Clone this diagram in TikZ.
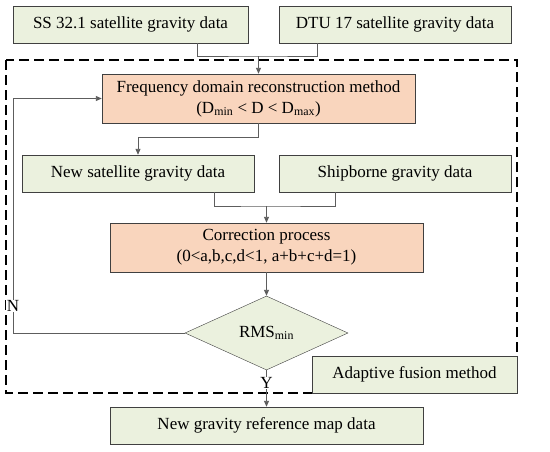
\documentclass[tikz,border=0pt]{standalone}
\usepackage{fontspec}
\setmainfont{Liberation Serif}
\usepackage{tikz}
\usetikzlibrary{arrows.meta,positioning,calc,shapes.geometric}
\definecolor{boxgreen}{HTML}{EBF1DE}
\definecolor{boxorange}{HTML}{F9D5BD}
\definecolor{edgegray}{HTML}{404040}

\begin{document}
\begin{tikzpicture}[x=1pt,y=-1pt,font=\fontsize{17}{21}\selectfont,
  >={Triangle[length=6pt,width=5pt]},
  g/.style={draw=edgegray,fill=boxgreen,minimum width=232pt,minimum height=37pt,
    inner sep=2pt,align=center},
  o/.style={draw=edgegray,fill=boxorange,minimum width=313pt,minimum height=49pt,
    inner sep=2pt,align=center},
  ln/.style={draw=edgegray!85,line width=0.9pt}]
\useasboundingbox (0,0) rectangle (550,451);
\fill[white] (0,0) rectangle (550,451);
% fusion frame
\draw[line width=1.6pt,dash pattern=on 10pt off 5pt] (6,60) rectangle (517,393);
\node[g,minimum width=235pt] (ss) at (130.5,24.5) {SS 32.1 satellite gravity data};
\node[g] (dtu) at (395,24.5) {DTU 17 satellite gravity data};
\node[o] (freq) at (258.5,98.5) {Frequency domain reconstruction method\\(D\textsubscript{min} < D < D\textsubscript{max})};
\node[g] (newsat) at (138,173.5) {New satellite gravity data};
\node[g] (ship) at (395,173.5) {Shipborne gravity data};
\node[o] (corr) at (266.5,247.5) {Correction process\\(0<a,b,c,d<1, a+b+c+d=1)};
\node[draw=edgegray,fill=boxgreen,diamond,aspect=2.2,minimum width=163pt,
  minimum height=74pt,inner sep=0pt] (rms) at (266.5,333) {RMS\textsubscript{min}};
\node[g,minimum width=313pt] (final) at (266.5,425.5) {New gravity reference map data};
\node[g,minimum width=205pt] (adapt) at (414.5,374.5) {Adaptive fusion method};
% connectors
\coordinate (m1) at (258.5,56);
\coordinate (m2) at (266.5,206);
\coordinate (nb) at (13,0);
\draw[ln] ([xshift=66.5pt]ss.south) |- (m1) -| ([xshift=-78pt]dtu.south);
\draw[ln,->] (m1) -- (freq);
\draw[ln,->] (freq.south) -- ++(0,14) -| (newsat.north);
\draw[ln] ([xshift=76pt]newsat.south) |- (m2) -| ([xshift=-60pt]ship.south);
\draw[ln,->] (m2) -- (corr);
\draw[ln,->] (corr) -- (rms);
\draw[ln,->] (rms.west) -- (rms.west -| nb) |- (freq.west);
\node[fill=white,inner sep=0.5pt] (nlab) at (13,306) {N};
\draw[ln,->] (rms.south) -- (final.north);
\node[fill=white,inner sep=0.5pt] (ylab) at (266.5,383) {Y};
\end{tikzpicture}
\end{document}
